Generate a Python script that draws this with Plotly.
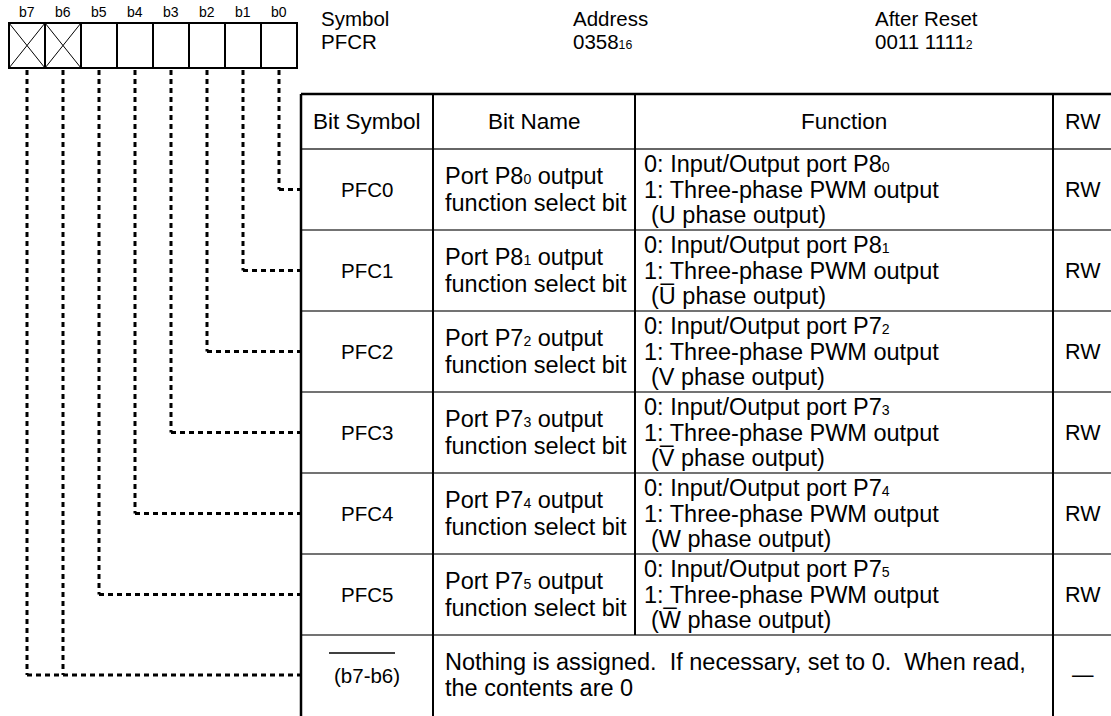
import plotly.graph_objects as go

# ---------------- data ----------------
bit_labels = ["b7", "b6", "b5", "b4", "b3", "b2", "b1", "b0"]
reserved_bits = ["b7", "b6"]

info_titles = ["Symbol", "Address", "After Reset"]
info_values = ["PFCR", ("0358", "16"), ("0011 1111", "2")]

col_titles = ["Bit Symbol", "Bit Name", "Function", "RW"]

bit_symbols = ["PFC0", "PFC1", "PFC2", "PFC3", "PFC4", "PFC5"]
bit_ports = [("P8", "0"), ("P8", "1"), ("P7", "2"),
             ("P7", "3"), ("P7", "4"), ("P7", "5")]
phase_names = ["U", "U\u0305", "V", "V\u0305", "W", "W\u0305"]
rw_flags = ["RW", "RW", "RW", "RW", "RW", "RW"]

reserved_symbol = "(b7-b6)"
reserved_lines = ["Nothing is assigned.  If necessary, set to 0.  When read,",
                  "the contents are 0"]
reserved_rw = "\u2014"

# ---------------- geometry ----------------
W, H = 1111, 716
FONT = "Liberation Sans, Arial, sans-serif"
box_x0, box_w, box_y0, box_y1 = 9, 36, 23, 68
col_x = [301, 433, 635, 1053, 1125]
tab_top, head_bot, row_h = 94, 149, 81
n_rows = len(bit_symbols)
BODY = 23.5

shapes = []
ann = []


def sub(base, s, size):
    return f'{base}<span style="font-size:{size * 0.6:.1f}px">{s}</span>'


def text(x, y, s, size=22, xanchor="left"):
    ann.append(dict(x=x, y=y, xref="x", yref="y", text=s, showarrow=False,
                    xanchor=xanchor, yanchor="middle",
                    font=dict(family=FONT, size=size, color="black")))


def line(x0, y0, x1, y1, width=2, color="black", dash=None):
    d = dict(type="line", x0=x0, y0=y0, x1=x1, y1=y1, xref="x", yref="y",
             line=dict(color=color, width=width))
    if dash:
        d["line"]["dash"] = dash
    shapes.append(d)


# bit boxes
for i, b in enumerate(bit_labels):
    x0 = box_x0 + i * box_w
    cx = x0 + box_w / 2
    text(cx, 12, b, size=14, xanchor="center")
    shapes.append(dict(type="rect", x0=x0, x1=x0 + box_w, y0=box_y0, y1=box_y1,
                       xref="x", yref="y", line=dict(color="black", width=2)))
    if b in reserved_bits:
        line(x0, box_y0, x0 + box_w, box_y1, width=1)
        line(x0, box_y1, x0 + box_w, box_y0, width=1)

# register info
info_x = [319, 571, 873]
for t, v, x in zip(info_titles, info_values, info_x):
    text(x, 18, t, size=20.5)
    vs = v if isinstance(v, str) else sub(v[0], v[1], 20.5)
    text(x, 41, vs, size=20.5)

# table frame
bottom = H + 10
line(col_x[0], tab_top, col_x[-1], tab_top, width=2.5)
line(col_x[0], head_bot, col_x[-1], head_bot, width=1.5, color="#333")
for k in range(1, n_rows + 1):
    y = head_bot + k * row_h
    line(col_x[0], y, col_x[-1], y, width=1.5, color="#444")
line(col_x[0], tab_top, col_x[0], bottom, width=2.5)
line(col_x[1], tab_top, col_x[1], bottom, width=2)
line(col_x[2], tab_top, col_x[2], head_bot + n_rows * row_h, width=2)
line(col_x[3], tab_top, col_x[3], bottom, width=2)

# header row
hy = (tab_top + head_bot) / 2
for t, a, b in zip(col_titles, col_x[:-1], col_x[1:]):
    cx = (a + b) / 2 if t != "RW" else 1083
    text(cx, hy, t, size=22.5 if t != "RW" else 21.5, xanchor="center")

# data rows
for r in range(n_rows):
    cy = head_bot + r * row_h + row_h / 2
    port = sub(bit_ports[r][0], bit_ports[r][1], BODY)
    text((col_x[0] + col_x[1]) / 2, cy, bit_symbols[r], size=20.5, xanchor="center")
    text(443, cy - 14, "Port " + port + " output", size=BODY)
    text(443, cy + 13, "function select bit", size=BODY)
    text(642, cy - 26, "0: Input/Output port " + port, size=BODY)
    text(642, cy, "1: Three-phase PWM output", size=BODY)
    text(649, cy + 25, "(" + phase_names[r] + " phase output)", size=BODY)
    text(1083, cy, rw_flags[r], size=21.5, xanchor="center")

    # dotted connector from bit box
    bi = len(bit_labels) - 1 - r
    bx = box_x0 + bi * box_w + box_w / 2
    line(bx, box_y1 + 2, bx, cy, width=3, dash="5px,4px")
    line(bx, cy, col_x[0], cy, width=3, dash="5px,4px")

# reserved row
ry = head_bot + n_rows * row_h + 40
text((col_x[0] + col_x[1]) / 2, ry, reserved_symbol, size=20.5, xanchor="center")
line(329, 653, 395, 653, width=1.5)
text(443, ry - 13, reserved_lines[0], size=BODY)
text(443, ry + 13, reserved_lines[1], size=BODY)
text(1083, ry, reserved_rw, size=21.5, xanchor="center")
for b in reserved_bits:
    bi = bit_labels.index(b)
    bx = box_x0 + bi * box_w + box_w / 2
    line(bx, box_y1 + 2, bx, ry, width=3, dash="5px,4px")
bx7 = box_x0 + box_w / 2
line(bx7, ry, col_x[0], ry, width=3, dash="5px,4px")

fig = go.Figure()
fig.update_layout(
    width=W, height=H,
    margin=dict(l=0, r=0, t=0, b=0),
    paper_bgcolor="white", plot_bgcolor="white",
    xaxis=dict(range=[0, W], visible=False, fixedrange=True),
    yaxis=dict(range=[H, 0], visible=False, fixedrange=True),
    shapes=shapes, annotations=ann, showlegend=False,
)
fig.write_html("out.html", config={"displayModeBar": False},
               post_script="document.body.style.margin='0';")
